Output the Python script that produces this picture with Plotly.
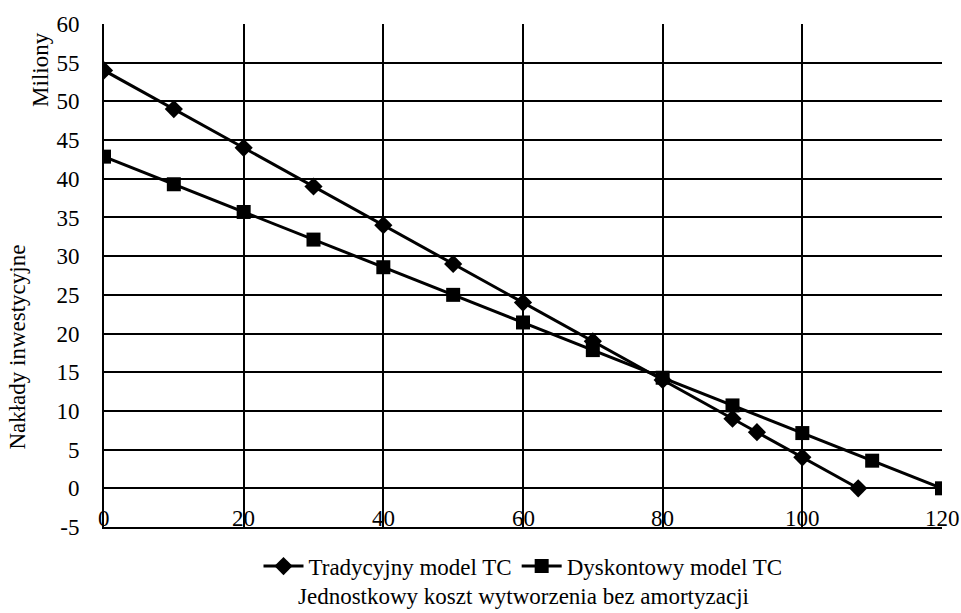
import plotly.graph_objects as go

trad_x = [0, 10, 20, 30, 40, 50, 60, 70, 80, 90, 93.5, 100, 108]
trad_y = [54, 49, 44, 39, 34, 29, 24, 19, 14, 9, 7.25, 4, 0]
dysk_x = [0, 10, 20, 30, 40, 50, 60, 70, 80, 90, 100, 110, 120]
dysk_y = [42.86, 39.29, 35.71, 32.14, 28.57, 25.0, 21.43, 17.86, 14.29, 10.71, 7.14, 3.57, 0]
x_ticks = [0, 20, 40, 60, 80, 100, 120]
y_ticks = list(range(-5, 61, 5))
y_ticktext = ["-5"] + [str(v) for v in y_ticks[1:]]

FONT = "Liberation Serif"
FS = 23

fig = go.Figure()
fig.add_trace(go.Scatter(x=trad_x, y=trad_y, mode="lines+markers", name="Tradycyjny model TC",
                         line=dict(color="black", width=3),
                         marker=dict(symbol="diamond", size=14, color="black")))
fig.add_trace(go.Scatter(x=dysk_x, y=dysk_y, mode="lines+markers", name="Dyskontowy model TC",
                         line=dict(color="black", width=3),
                         marker=dict(symbol="square", size=14, color="black")))

annots = [
    dict(text="Nakłady inwestycyjne", xref="paper", yref="paper", x=-0.103, y=0.358,
         xanchor="center", yanchor="middle", textangle=-90, showarrow=False,
         font=dict(family=FONT, size=FS)),
    dict(text="Miliony", xref="paper", yref="paper", x=-0.075, y=0.909,
         xanchor="center", yanchor="middle", textangle=-90, showarrow=False,
         font=dict(family=FONT, size=FS)),
    dict(text="Jednostkowy koszt wytworzenia bez amortyzacji", xref="paper", yref="paper",
         x=0.5, y=-0.138, xanchor="center", yanchor="middle", showarrow=False,
         font=dict(family=FONT, size=FS)),
]
for t in x_ticks:
    annots.append(dict(text=str(t), xref="x", yref="paper", x=t, y=0, xanchor="center",
                       yanchor="bottom", showarrow=False, yshift=-6,
                       font=dict(family=FONT, size=FS)))

fig.update_layout(
    width=961, height=613,
    margin=dict(l=104, r=19, t=22, b=86),
    paper_bgcolor="white", plot_bgcolor="white",
    font=dict(family=FONT, size=FS, color="black"),
    showlegend=True,
    legend=dict(orientation="h", x=0.5, xanchor="center", y=-0.035, yanchor="top",
                font=dict(family=FONT, size=FS), itemwidth=40),
    xaxis=dict(range=[0, 120], tickvals=x_ticks, showticklabels=False,
               showgrid=True, gridcolor="black", gridwidth=2,
               showline=True, linecolor="black", linewidth=2,
               zeroline=False, ticks=""),
    yaxis=dict(range=[-5, 60], tickvals=y_ticks, ticktext=y_ticktext,
               showgrid=True, gridcolor="black", gridwidth=2,
               showline=True, linecolor="black", linewidth=2,
               zeroline=False, ticks="", ticklabelstandoff=18,
               tickfont=dict(family=FONT, size=FS)),
    annotations=annots,
)

fig.write_html("out.html")
